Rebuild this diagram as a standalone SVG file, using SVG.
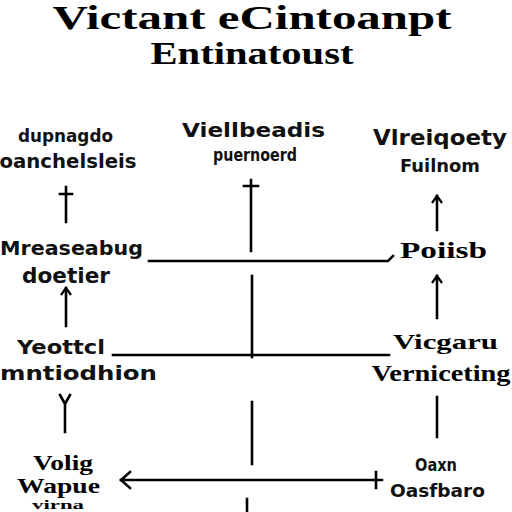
<svg xmlns="http://www.w3.org/2000/svg" width="512" height="512" viewBox="0 0 512 512">
<defs>
<style>
.t{font-family:"Liberation Serif","DejaVu Serif",serif;font-weight:bold;fill:#000;text-anchor:middle}
.l{font-family:"DejaVu Sans","Liberation Sans",sans-serif;font-weight:bold;fill:#111;text-anchor:middle}
.c{stroke:#000;stroke-width:2.6;fill:none;stroke-linecap:square}
</style>
<marker id="up" viewBox="0 0 12 12" refX="10" refY="6" markerWidth="12" markerHeight="12" markerUnits="userSpaceOnUse" orient="auto-start-reverse">
<path d="M3,1 L10,6 L3,11" fill="none" stroke="#000" stroke-width="2.2"/>
</marker>
</defs>
<rect width="512" height="512" fill="#fff"/>
<g id="title">
<text class="t" x="252" y="29" font-size="33" textLength="399" lengthAdjust="spacingAndGlyphs">Victant eCintoanpt</text>
<text class="t" x="252" y="64" font-size="32" textLength="203" lengthAdjust="spacingAndGlyphs">Entinatoust</text>
</g>
<g id="connectors">
<path class="c" d="M66,187 V222 M60,194 H72"/>
<path class="c" d="M66,288 V326" marker-start="url(#up)"/>
<path class="c" d="M65,402 V432 M60,395 L65,404 L70,395"/>
<path class="c" d="M251,180 V251 M244,186 H258"/>
<path class="c" d="M437,196 V230" marker-start="url(#up)"/>
<path class="c" d="M437,276 V318" marker-start="url(#up)"/>
<path class="c" d="M437,397 V437"/>
<path class="c" d="M149,261 H388 L393,256"/>
<path class="c" d="M113,355 H389"/>
<path class="c" d="M252,276 V357"/>
<path class="c" d="M252,402 V464"/>
<path class="c" d="M247,499 V512"/>
<path class="c" d="M121,480 H382 M376,472 V488"/>
<path class="c" d="M130,472 L121,480 L130,488"/>
</g>
<g id="n-left1">
<text class="l" x="65.5" y="142" font-size="18" textLength="95" lengthAdjust="spacingAndGlyphs">dupnagdo</text>
<text class="l" x="68" y="168" font-size="19" textLength="137" lengthAdjust="spacingAndGlyphs">oanchelsleis</text>
</g>
<g id="n-mid1">
<text class="l" x="253.5" y="137" font-size="20" textLength="143" lengthAdjust="spacingAndGlyphs">Viellbeadis</text>
<text class="l" x="255" y="161" font-size="17" textLength="84" lengthAdjust="spacingAndGlyphs">puernoerd</text>
</g>
<g id="n-right1">
<text class="l" x="440" y="145" font-size="21" textLength="134" lengthAdjust="spacingAndGlyphs">Vlreiqoety</text>
<text class="l" x="440" y="172" font-size="18" textLength="80" lengthAdjust="spacingAndGlyphs">Fuilnom</text>
</g>
<g id="n-left2">
<text class="l" x="71.5" y="255" font-size="19" textLength="143" lengthAdjust="spacingAndGlyphs">Mreaseabug</text>
<text class="l" x="66" y="283" font-size="21" textLength="88" lengthAdjust="spacingAndGlyphs">doetier</text>
</g>
<g id="n-right2">
<text class="t" x="443.5" y="258" font-size="24" textLength="87" lengthAdjust="spacingAndGlyphs">Poiisb</text>
</g>
<g id="n-left3">
<text class="l" x="61" y="354" font-size="19" textLength="88" lengthAdjust="spacingAndGlyphs">Yeottcl</text>
<text class="l" x="78.5" y="380" font-size="19" textLength="157" lengthAdjust="spacingAndGlyphs">mntiodhion</text>
</g>
<g id="n-right3">
<text class="t" x="445.5" y="349" font-size="22" textLength="105" lengthAdjust="spacingAndGlyphs">Vicgaru</text>
<text class="t" x="441" y="381" font-size="23" textLength="139" lengthAdjust="spacingAndGlyphs">Verniceting</text>
</g>
<g id="n-left4">
<text class="t" x="63" y="470" font-size="21" textLength="60" lengthAdjust="spacingAndGlyphs">Volig</text>
<text class="t" x="58.5" y="493" font-size="21" textLength="83" lengthAdjust="spacingAndGlyphs">Wapue</text>
<text class="t" x="58" y="509" font-size="13" textLength="52" lengthAdjust="spacingAndGlyphs">virna</text>
</g>
<g id="n-right4">
<text class="l" x="436" y="471" font-size="17" textLength="42" lengthAdjust="spacingAndGlyphs">Oaxn</text>
<text class="l" x="437.5" y="497" font-size="17" textLength="95" lengthAdjust="spacingAndGlyphs">Oasfbaro</text>
</g>
</svg>
